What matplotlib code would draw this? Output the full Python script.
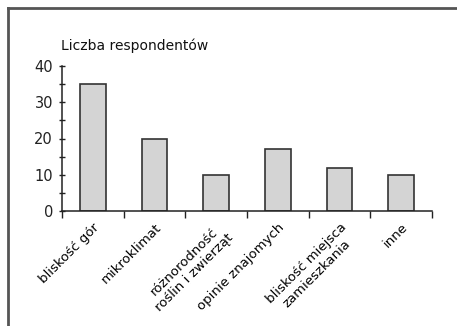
import matplotlib
matplotlib.use("Agg")
import matplotlib.pyplot as plt
from matplotlib.lines import Line2D
from matplotlib.ticker import MultipleLocator, FixedLocator
import numpy as np

categories = ["bliskość gór", "mikroklimat", "różnorodność\nroślin i zwierząt",
              "opinie znajomych", "bliskość miejsca\nzamieszkania", "inne"]
respondents = [35, 20, 10, 17, 12, 10]

plt.rcParams['font.family'] = ['Liberation Sans Narrow', 'DejaVu Sans Condensed', 'DejaVu Sans']

fig = plt.figure(figsize=(4.57, 3.26), dpi=100)
ax = fig.add_axes([62/457, 1 - 211/326, 370/457, 145/326])

ind = np.arange(len(respondents))
ax.bar(ind, respondents, 0.42, color='#d4d4d4', edgecolor='#333333', linewidth=1.2)

ax.set_xlim(-0.5, len(respondents) - 0.5)
ax.set_ylim(0, 40)

# y axis: labels every 10, small ticks every 5
ax.yaxis.set_major_locator(MultipleLocator(10))
ax.yaxis.set_minor_locator(MultipleLocator(5))
ax.tick_params(axis='y', which='both', direction='inout', length=5, width=1, colors='#222222', labelsize=10.5, pad=4)

# x axis: ticks between categories, labels centred under bars
ax.set_xticks(ind)
ax.set_xticklabels(categories, rotation=45, ha='right', rotation_mode='anchor', multialignment='center', fontsize=9.5)
ax.xaxis.set_minor_locator(FixedLocator(np.arange(-0.5, len(respondents), 1.0)))
ax.tick_params(axis='x', which='major', length=0, pad=7)
ax.tick_params(axis='x', which='minor', direction='out', length=5, width=1, colors='#222222')

for s in ['top', 'right']:
    ax.spines[s].set_visible(False)
for s in ['left', 'bottom']:
    ax.spines[s].set_color('#222222')
    ax.spines[s].set_linewidth(1.1)

fig.text(61/457, 1 - 46/326, "Liczba respondentów", fontsize=10, va='center', ha='left', color='#111111')

# frame lines along the top and left edges
fig.add_artist(Line2D([8/457, 1], [1 - 8/326, 1 - 8/326], color='#555555', lw=2, transform=fig.transFigure))
fig.add_artist(Line2D([8/457, 8/457], [0, 1 - 8/326], color='#555555', lw=2, transform=fig.transFigure))

fig.savefig("out.png", dpi=100)
